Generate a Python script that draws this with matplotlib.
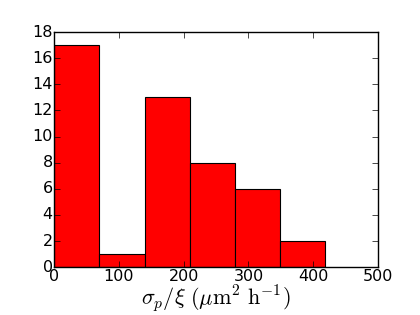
import matplotlib
matplotlib.use("Agg")
import matplotlib.pyplot as plt

plt.style.use('classic')

bin_edges = [0, 69.8, 139.5, 209.2, 279.0, 348.7, 418.5]
counts = [17, 1, 13, 8, 6, 2]
x_ticks = [0, 100, 200, 300, 400, 500]
y_ticks = [0, 2, 4, 6, 8, 10, 12, 14, 16, 18]

plt.rcParams['mathtext.fontset'] = 'cm'

fig = plt.figure(figsize=(4.2, 3.15), dpi=100, facecolor='white')
ax = fig.add_axes([0.129, 0.152, 0.771, 0.746])

ax.hist(bin_edges[:-1], bins=bin_edges, weights=counts, color='red',
        edgecolor='black', linewidth=0.8)
ax.set_xlim(0, 500)
ax.set_ylim(0, 18)
ax.set_xticks(x_ticks)
ax.set_yticks(y_ticks)
ax.tick_params(labelsize=11.5, pad=1)
ax.set_xlabel(r'$\sigma_p/\xi\ (\mu \mathrm{m}^2\ \mathrm{h}^{-1})$', fontsize=16, labelpad=0)

fig.savefig('out.png', dpi=100, facecolor='white')
